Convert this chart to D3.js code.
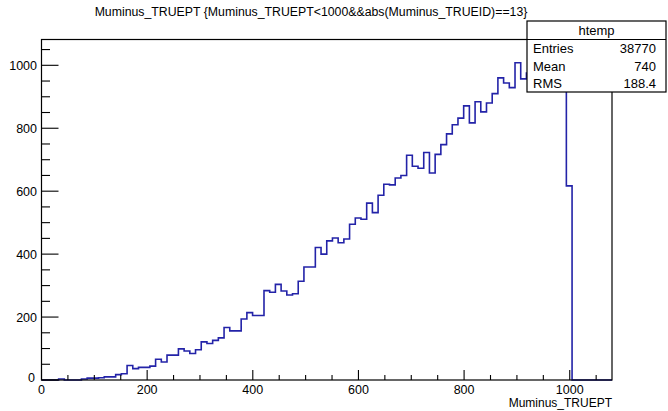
<!DOCTYPE html>
<html><head><meta charset="utf-8">
<script src="https://cdn.jsdelivr.net/npm/d3@7"></script>
<style>body{margin:0;background:#fff}svg{display:block}text{font-family:"Liberation Sans",Arial,Helvetica,sans-serif}</style>
</head><body>
<script>
const chartTitle = "Muminus_TRUEPT {Muminus_TRUEPT<1000&&abs(Muminus_TRUEID)==13}";
const xAxisTitle = "Muminus_TRUEPT";
const histName = "htemp";
const statLabels = ["Entries", "Mean", "RMS"];
const statValues = ["38770", "740", "188.4"];
const xRange = [0, 1080];
const yRange = [0, 1082];
const xTickValues = [0, 200, 400, 600, 800, 1000];
const yTickValues = [0, 200, 400, 600, 800, 1000];
// counts for 100 bins of width 10.8 over [0,1080]
const binCounts = [
  0,0,0,3,0,0,0,3,6,6,
  7,10,10,17,20,46,36,40,40,44,
  66,57,79,79,99,92,84,96,121,116,
  126,134,167,156,156,194,214,205,205,284,
  279,304,283,270,274,314,359,359,421,400,
  442,451,436,448,495,515,511,562,532,587,
  622,620,642,650,714,679,673,723,658,717,
  748,782,811,832,871,817,884,852,880,910,
  960,944,929,1008,957,975,990,965,1000,985,
  1030,990,617,0,0,0,0,0,0,0
];

const W = 668, H = 411;
const fr = {l: 41.5, r: 612, t: 39.5, b: 380};
const svg = d3.select("body").append("svg").attr("width", W).attr("height", H);

const x = d3.scaleLinear().domain(xRange).range([fr.l, fr.r]);
const y = d3.scaleLinear().domain(yRange).range([fr.b, fr.t]);
const nb = binCounts.length;
const bw = (xRange[1] - xRange[0]) / nb;

// histogram outline
const pts = [];
binCounts.forEach((c, i) => {
  pts.push([xRange[0] + i * bw, c]);
  pts.push([xRange[0] + (i + 1) * bw, c]);
});
svg.append("path")
  .attr("d", d3.line().x(d => x(d[0])).y(d => y(d[1]))(pts))
  .attr("fill", "none").attr("stroke", "#2323a8").attr("stroke-width", 1.6);

// frame
svg.append("rect").attr("x", fr.l).attr("y", fr.t).attr("width", fr.r - fr.l).attr("height", fr.b - fr.t)
  .attr("fill", "none").attr("stroke", "#000").attr("stroke-width", 1.2);

// x axis ticks
const xMinor = d3.range(0, 1051, 50);
const gx = svg.append("g");
gx.selectAll("line").data(xMinor).join("line")
  .attr("x1", d => x(d)).attr("x2", d => x(d))
  .attr("y1", fr.b).attr("y2", d => fr.b - (d % 200 === 0 ? 10 : 5))
  .attr("stroke", "#000").attr("stroke-width", 1.1);
gx.selectAll("text").data(xTickValues).join("text")
  .attr("x", d => x(d)).attr("y", fr.b + 14).attr("text-anchor", "middle")
  .attr("font-size", 12.5).text(d => d);

// y axis ticks
const yMinor = d3.range(0, 1051, 50);
const gy = svg.append("g");
gy.selectAll("line").data(yMinor).join("line")
  .attr("x1", fr.l).attr("x2", d => fr.l + (d % 200 === 0 ? 17 : 8.5))
  .attr("y1", d => y(d)).attr("y2", d => y(d))
  .attr("stroke", "#000").attr("stroke-width", 1.1);
gy.selectAll("text").data(yTickValues).join("text")
  .attr("x", d => d === 0 ? 35 : 37).attr("y", d => y(d) + (d === 0 ? 2 : 4.5)).attr("text-anchor", "end")
  .attr("font-size", 12.5).text(d => d);

// axis title
svg.append("text").attr("x", fr.r).attr("y", 406.5).attr("text-anchor", "end")
  .attr("font-size", 12).text(xAxisTitle);

// title
svg.append("text").attr("x", 311).attr("y", 16).attr("text-anchor", "middle")
  .attr("font-size", 12.3).text(chartTitle);

// stats box
const sb = {x: 527, y: 21, w: 139, h: 71, hdr: 18.5};
svg.append("rect").attr("x", sb.x).attr("y", sb.y).attr("width", sb.w).attr("height", sb.h)
  .attr("fill", "#fff").attr("stroke", "#000").attr("stroke-width", 1.2);
svg.append("line").attr("x1", sb.x).attr("x2", sb.x + sb.w).attr("y1", sb.y + sb.hdr).attr("y2", sb.y + sb.hdr)
  .attr("stroke", "#000").attr("stroke-width", 1.2);
svg.append("text").attr("x", sb.x + sb.w / 2).attr("y", sb.y + 14).attr("text-anchor", "middle")
  .attr("font-size", 13).text(histName);
const rowH = (sb.h - sb.hdr) / statLabels.length;
statLabels.forEach((lab, i) => {
  const yy = sb.y + sb.hdr + rowH * (i + 0.5) + 5;
  svg.append("text").attr("x", sb.x + 6).attr("y", yy).attr("font-size", 13).text(lab);
  svg.append("text").attr("x", sb.x + sb.w - 10).attr("y", yy).attr("text-anchor", "end")
    .attr("font-size", 13).text(statValues[i]);
});
</script>
</body></html>
